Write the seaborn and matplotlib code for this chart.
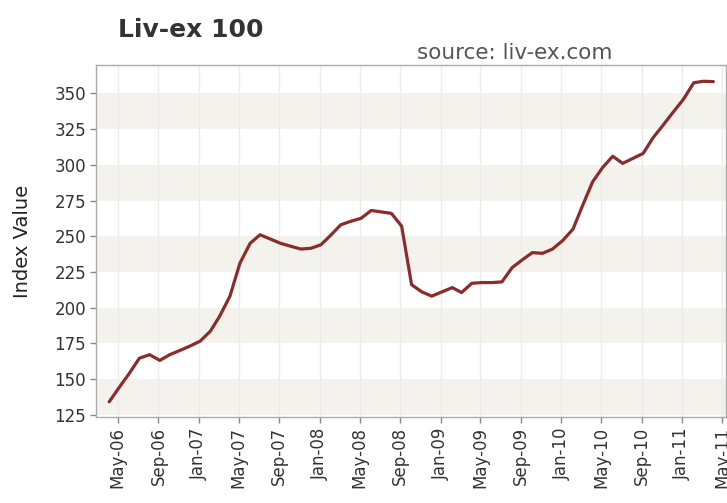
import pandas as pd
import matplotlib
matplotlib.use('Agg')
import matplotlib.pyplot as plt
import matplotlib.dates as mdates
import seaborn as sns

# Liv-ex 100 monthly index values, Apr-06 .. Apr-11
months = pd.date_range('2006-04-01', '2011-04-01', freq='MS') + pd.Timedelta(days=4)
values = [
    134, 144, 154, 164.5, 167, 163, 167, 170, 173,
    176.5, 183.5, 194, 208, 231, 245, 251, 248, 245, 243, 241, 241.5,
    244, 251, 258, 260.5, 262.5, 268, 267, 266, 257, 216, 211, 208,
    211, 214, 210.5, 217, 217.5, 217.5, 218, 228, 233.5, 238.5, 238, 241,
    247, 255, 271, 288, 298, 306, 301, 304.5, 308, 319, 328, 337,
    346, 357.5, 358.5, 358.3,
]
y_ticks = [125, 150, 175, 200, 225, 250, 275, 300, 325, 350]
bands = [(125, 150), (175, 200), (225, 250), (275, 300), (325, 350)]

df = pd.DataFrame({'Month': months, 'Index': values})

sns.set_style('white')
plt.rcParams['font.family'] = ['DejaVu Sans']

fig = plt.figure(figsize=(7.27, 5.03), dpi=100)
ax = fig.add_axes([0.132, 0.170, 0.866, 0.701])

for lo, hi in bands:
    ax.axhspan(lo, hi, color='#f3f2ec', zorder=0, lw=0)

sns.lineplot(data=df, x='Month', y='Index', color='#8b2b2b', linewidth=2.3, ax=ax, zorder=3)

ax.set_xlim(pd.Timestamp('2006-02-24'), pd.Timestamp('2011-05-12'))
ax.set_ylim(123, 370)
ax.set_yticks(y_ticks)

ax.xaxis.set_major_locator(mdates.MonthLocator(bymonth=[1, 5, 9]))
ax.xaxis.set_major_formatter(mdates.DateFormatter('%b-%y'))
plt.setp(ax.get_xticklabels(), rotation=90)

ax.grid(True, axis='x', color='#ebebeb', lw=1.0, zorder=1)
ax.tick_params(axis='both', which='major', direction='out', length=4, width=1,
               color='#888888', labelsize=12, labelcolor='#333333', pad=3, bottom=True, left=True)
for s in ax.spines.values():
    s.set_color('#aaaaaa')
    s.set_linewidth(1.0)

ax.set_xlabel('')
ax.set_ylabel('Index Value', fontsize=14, color='#222222', labelpad=16)

fig.text(0.162, 0.94, 'Liv-ex 100', fontsize=18, fontweight='bold', color='#333333',
         ha='left', va='center')
fig.text(0.842, 0.895, 'source: liv-ex.com', fontsize=15.5, color='#555555',
         ha='right', va='center')

fig.savefig('out.png', dpi=100, facecolor='white')
